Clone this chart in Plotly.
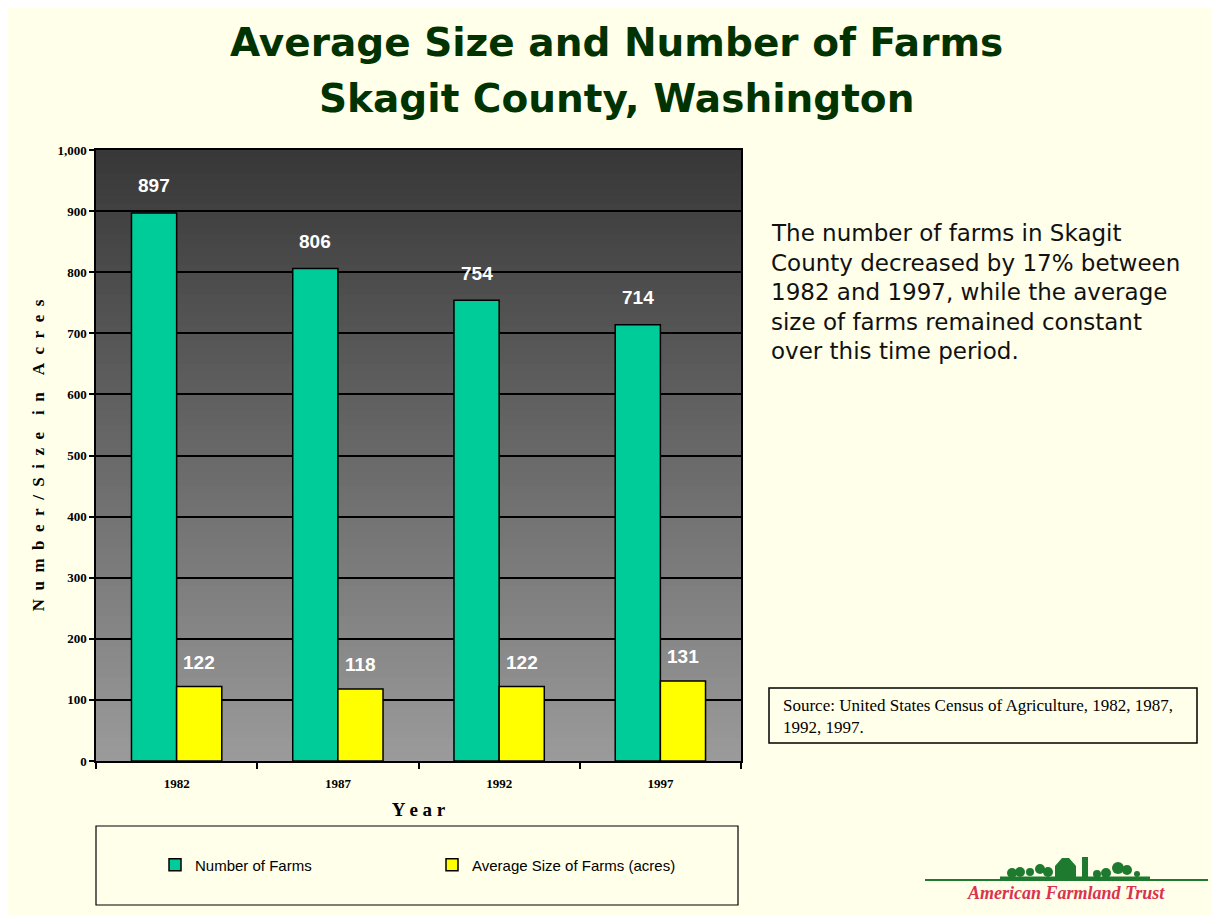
import plotly.graph_objects as go

# ---------------- data ----------------
years = ["1982", "1987", "1992", "1997"]
number_of_farms = [897, 806, 754, 714]
avg_size_acres = [122, 118, 122, 131]
series_names = ["Number of Farms", "Average Size of Farms (acres)"]
y_ticks = [0, 100, 200, 300, 400, 500, 600, 700, 800, 900, 1000]
note_lines = [
    "The number of farms in Skagit",
    "County decreased by 17% between",
    "1982 and 1997, while the average",
    "size of farms remained constant",
    "over this time period.",
]

# ---------------- layout geometry ----------------
W, H = 1220, 916
OFF = 8  # page body margin
L, R, T, B = 96, 741, 150, 761  # plot area as seen on screen
PW, PH = R - L, B - T


def px(x):
    return (x - L) / PW


def py(y):
    return (B - y) / PH


BG = "#FFFFEA"
GREEN = "#00CC99"
YELLOW = "#FFFF00"

fig = go.Figure()
fig.add_trace(go.Bar(
    x=years, y=number_of_farms, name=series_names[0],
    marker=dict(color=GREEN, line=dict(color="black", width=1.5)),
))
fig.add_trace(go.Bar(
    x=years, y=avg_size_acres, name=series_names[1],
    marker=dict(color=YELLOW, line=dict(color="black", width=1.5)),
))

shapes = []
# gradient plot background (strips, below grid)
N = 80
top_c, bot_c = 0x38, 0x9A
for i in range(N):
    f = i / (N - 1)
    c = int(round(bot_c + (top_c - bot_c) * f))
    shapes.append(dict(
        type="rect", xref="x domain", yref="y domain", layer="below",
        x0=0, x1=1, y0=i / N, y1=(i + 1) / N + 0.002,
        fillcolor=f"rgb({c},{c},{c})", line=dict(width=0),
    ))

# legend box
shapes.append(dict(type="rect", xref="paper", yref="paper",
                   x0=px(96), x1=px(738), y0=py(826), y1=py(905),
                   line=dict(color="black", width=1.2), fillcolor="rgba(0,0,0,0)"))
# source box
shapes.append(dict(type="rect", xref="paper", yref="paper",
                   x0=px(769), x1=px(1197), y0=py(688), y1=py(743),
                   line=dict(color="black", width=1.5), fillcolor="rgba(0,0,0,0)"))

# logo: ground line and simple farm silhouette
LG = "#1E7A2E"
shapes.append(dict(type="line", xref="paper", yref="paper",
                   x0=px(925), x1=px(1208), y0=py(880), y1=py(880),
                   line=dict(color=LG, width=2)))
shapes.append(dict(type="line", xref="paper", yref="paper",
                   x0=px(1000), x1=px(1150), y0=py(878), y1=py(878),
                   line=dict(color=LG, width=3)))
shapes.append(dict(type="path", xref="paper", yref="paper",
                   path=(f"M {px(1055)},{py(879)} L {px(1055)},{py(866)} L {px(1062)},{py(858)} "
                         f"L {px(1069)},{py(858)} L {px(1076)},{py(866)} L {px(1076)},{py(879)} Z"),
                   fillcolor=LG, line=dict(width=0)))
shapes.append(dict(type="rect", xref="paper", yref="paper",
                   x0=px(1082), x1=px(1088), y0=py(879), y1=py(857),
                   fillcolor=LG, line=dict(width=0)))
for cx, cy, r in [(1012, 873, 5), (1020, 872, 5), (1030, 872, 4), (1040, 869, 5),
                  (1048, 872, 5), (1097, 874, 4), (1106, 873, 5), (1118, 868, 6),
                  (1127, 870, 5), (1137, 874, 3)]:
    shapes.append(dict(type="circle", xref="paper", yref="paper",
                       x0=px(cx - r), x1=px(cx + r), y0=py(cy + r), y1=py(cy - r),
                       fillcolor=LG, line=dict(width=0)))

annotations = []
# value labels derived from the data (category index on the x axis)
for vals, shift, ysh in [(number_of_farms, -22.5, 27), (avg_size_acres, 22.5, 24)]:
    for i, v in enumerate(vals):
        annotations.append(dict(
            x=i, y=v, xref="x", yref="y", text=str(v), showarrow=False,
            xshift=shift, yshift=ysh, yanchor="middle",
            font=dict(family="Liberation Sans", size=19, color="white", weight="bold"),
        ))

# title lines
TFONT = dict(family="DejaVu Sans", size=39, color="#003300", weight="bold")
annotations.append(dict(
    xref="paper", yref="paper", x=px(616), y=py(42), text="Average Size and Number of Farms",
    showarrow=False, xanchor="center", yanchor="middle", font=TFONT))
annotations.append(dict(
    xref="paper", yref="paper", x=px(616), y=py(98), text="Skagit County, Washington",
    showarrow=False, xanchor="center", yanchor="middle", font=TFONT))

# right-hand text, one annotation per line
for k, line in enumerate(note_lines):
    annotations.append(dict(
        xref="paper", yref="paper", x=px(769), y=py(233 + 29.5 * k),
        xanchor="left", yanchor="middle", align="left", showarrow=False,
        text=line, font=dict(family="DejaVu Sans", size=23, color="#111111")))

# source text
annotations.append(dict(
    xref="paper", yref="paper", x=px(781), y=py(694), xanchor="left", yanchor="top",
    align="left", showarrow=False,
    text="Source: United States Census of Agriculture, 1982, 1987,<br>1992, 1997.",
    font=dict(family="Liberation Serif", size=17, color="black")))

# logo text
annotations.append(dict(
    xref="paper", yref="paper", x=px(1066), y=py(893), xanchor="center", yanchor="middle",
    showarrow=False, text="<i>American Farmland Trust</i>",
    font=dict(family="Liberation Serif", size=18, color="#D9334F", weight="bold")))

ES = "\u2002"
ytitle = (ES + ES).join(ES.join(w) for w in ["Number/Size", "in", "Acres"])

fig.update_layout(
    width=W, height=H,
    margin=dict(l=L - OFF, r=W - R + OFF, t=T - OFF, b=H - B + OFF, pad=0),
    paper_bgcolor=BG, plot_bgcolor="#808080",
    barmode="group", bargap=0.44, bargroupgap=0,
    showlegend=True,
    legend=dict(
        orientation="h", x=px(155), y=py(865), xanchor="left", yanchor="middle",
        bgcolor="rgba(0,0,0,0)", borderwidth=0, entrywidth=232, entrywidthmode="pixels",
        font=dict(family="Liberation Sans Narrow, Liberation Sans", size=15, color="black"),
        itemclick=False,
    ),
    shapes=shapes,
    annotations=annotations,
    xaxis=dict(
        type="category", showgrid=False, tickson="boundaries", ticks="outside",
        ticklen=6, tickcolor="black", tickwidth=1.5, ticklabelstandoff=10,
        showline=True, linecolor="black", linewidth=1.5, mirror=True,
        tickfont=dict(family="Liberation Serif", size=13, color="black", weight="bold"),
        title=dict(text="Y e a r", standoff=12,
                   font=dict(family="Liberation Serif", size=19, color="black", weight="bold")),
    ),
    yaxis=dict(
        range=[0, 1000], tickvals=y_ticks, tickformat=",d",
        showgrid=True, gridcolor="black", gridwidth=1.5,
        ticks="outside", ticklen=5, tickcolor="black", tickwidth=1.5,
        showline=True, linecolor="black", linewidth=1.5, mirror=True,
        zeroline=False,
        tickfont=dict(family="Liberation Serif", size=13, color="black", weight="bold"),
        title=dict(text=ytitle, standoff=8,
                   font=dict(family="Liberation Serif", size=17, color="black", weight="bold")),
    ),
)

fig.write_html("out.html")
